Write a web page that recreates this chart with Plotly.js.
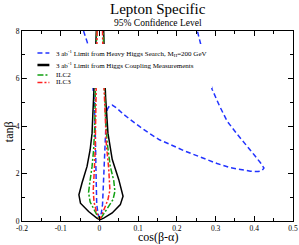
<!DOCTYPE html>
<html>
<head>
<meta charset="utf-8">
<script src="https://cdn.plot.ly/plotly-3.0.1.min.js"></script>
<style>html,body{margin:0;padding:0;background:#fff;}#chart{width:299px;height:245px;}</style>
</head>
<body>
<div id="chart"></div>
<script>
// Heavy Higgs search limit (blue dashed)
var blueX = [-0.041,-0.031,-0.025,-0.020,-0.016,-0.013,-0.011,-0.010,-0.009,-0.0085,-0.007,-0.004,-0.001,0.002,0.005,0.008,0.0095,0.011,0.013,0.015,0.018,0.021,0.026,0.033,0.045,0.063,0.085,0.106,0.130,0.155,0.183,0.217,0.261,0.304,0.339,0.364,0.390,0.410,0.420,0.425,0.416,0.400,0.382,0.356,0.330,0.310,0.291,0.276,0.261,0.253];
var blueY = [8.0,7.5,7.0,6.3,5.5,5.0,4.2,3.2,2.2,1.3,0.7,0.35,0.15,0.15,0.35,0.7,1.3,2.2,3.2,4.0,4.5,4.72,4.85,4.88,4.75,4.48,4.2,3.95,3.68,3.42,3.22,2.97,2.69,2.42,2.24,2.16,2.10,2.08,2.12,2.23,2.45,2.78,3.13,3.65,4.2,4.85,5.55,6.5,7.45,8.0];
// Higgs coupling measurements (black solid)
var blackX = [-0.008,-0.010,-0.013,-0.015,-0.017,-0.019,-0.024,-0.032,-0.045,-0.053,-0.049,-0.028,-0.006,0.002,0.011,0.033,0.054,0.061,0.050,0.033,0.022,0.018,0.016,0.014,0.012,0.011];
var blackY = [8.0,7.0,6.0,5.2,4.5,3.7,3.0,2.3,1.6,1.1,0.75,0.4,0.11,0.06,0.12,0.34,0.69,1.04,1.74,2.6,3.7,4.5,5.2,6.0,7.0,8.0];
// ILC2 (green dash-dot)
var ilc2X = [-0.007,-0.009,-0.010,-0.011,-0.012,-0.015,-0.019,-0.025,-0.028,-0.024,-0.012,-0.002,0.004,0.020,0.035,0.040,0.037,0.028,0.020,0.016,0.014,0.012,0.011,0.010];
var ilc2Y = [8.0,7.0,6.0,5.0,4.0,3.0,2.3,1.6,1.2,0.8,0.4,0.12,0.12,0.5,0.9,1.25,1.7,2.3,3.3,4.3,5.0,6.0,7.0,8.0];
// ILC3 (red dash-dot)
var ilc3X = [-0.006,-0.007,-0.008,-0.009,-0.009,-0.011,-0.013,-0.016,-0.014,-0.008,-0.001,0.003,0.011,0.022,0.027,0.024,0.018,0.015,0.013,0.011,0.009,0.008];
var ilc3Y = [8.0,7.0,6.0,5.0,4.0,3.0,2.2,1.3,0.8,0.4,0.12,0.12,0.45,0.9,1.3,2.2,3.2,4.2,5.0,6.0,7.0,8.0];

var xTickVals = [-0.2,-0.1,0,0.1,0.2,0.3,0.4,0.5];
var xTickText = ['-0.2','-0.1','0','0.1','0.2','0.3','0.4','0.5'];
var yTickVals = [0,2,4,6,8];
var yTickText = ['0','2','4','6','8'];

var legendNames = ['3 ab<sup>-1</sup> Limit from Heavy Higgs Search, M<sub>H</sub>=200 GeV',
                   '3 ab<sup>-1</sup> Limit from Higgs Coupling Measurements',
                   'ILC2','ILC3'];

var FONT = 'Liberation Serif';
var styles = [
  {color:'#2233ff', width:1.5, dash:'5px,3px'},
  {color:'#000000', width:1.5, dash:'solid'},
  {color:'#11a011', width:1.5, dash:'6px,2px,2px,2px'},
  {color:'#ff2020', width:1.5, dash:'5px,2px,2px,2px'}
];

var traces = [
  {x:blueX, y:blueY, name:legendNames[0], mode:'lines', line:styles[0]},
  {x:blackX, y:blackY, name:legendNames[1], mode:'lines', line:styles[1]},
  {x:ilc2X, y:ilc2Y, name:legendNames[2], mode:'lines', line:styles[2]},
  {x:ilc3X, y:ilc3Y, name:legendNames[3], mode:'lines', line:styles[3]}
];

// custom legend (box, sample lines, labels)
var legRowsY = [0.884, 0.821, 0.768, 0.729];
var shapes = [{type:'rect', xref:'paper', yref:'paper', x0:0.018, x1:0.701, y0:0.70, y1:0.932,
  fillcolor:'#ffffff', line:{width:0}, layer:'above'}];
var annotations = [];
for (var i = 0; i < 4; i++) {
  shapes.push({type:'line', xref:'paper', yref:'paper', x0:0.057, x1:0.101, y0:legRowsY[i], y1:legRowsY[i],
    line:{color:styles[i].color, width: i===1 ? 2.5 : 1.5, dash:styles[i].dash}, layer:'above'});
  annotations.push({xref:'paper', yref:'paper', x:0.118, y:legRowsY[i], xanchor:'left', yanchor:'middle',
    text:legendNames[i], showarrow:false, font:{family:FONT, size:7, color:'#000'}});
}
annotations.push({xref:'paper', yref:'paper', x:0.5, y:1.117, xanchor:'center', yanchor:'middle',
  text:'Lepton Specific', showarrow:false, font:{family:FONT, size:15, color:'#000'}});
annotations.push({xref:'paper', yref:'paper', x:0.5, y:1.04, xanchor:'center', yanchor:'middle',
  text:'95% Confidence Level', showarrow:false, font:{family:FONT, size:9.5, color:'#000'}});
annotations.push({xref:'paper', yref:'paper', x:0.5, y:-0.124, xanchor:'center', yanchor:'bottom', borderpad:0,
  text:'cos(β-α)', showarrow:false, font:{family:FONT, size:12, color:'#000'}});
annotations.push({xref:'paper', yref:'paper', x:-0.05, y:0.47, xanchor:'center', yanchor:'middle',
  text:'tanβ', textangle:-90, showarrow:false, font:{family:FONT, size:12, color:'#000'}});

var axisCommon = {
  showgrid:false, zeroline:false, showline:true, linecolor:'#000', linewidth:1, mirror:'ticks',
  ticks:'inside', ticklen:5, tickwidth:1, tickcolor:'#000',
  tickfont:{family:FONT, size:7.5, color:'#000'}, fixedrange:true
};

var layout = {
  width:299, height:245,
  margin:{l:22, r:6, t:31, b:24, pad:0},
  paper_bgcolor:'#fff', plot_bgcolor:'#fff',
  showlegend:false,
  font:{family:FONT},
  xaxis:Object.assign({}, axisCommon, {range:[-0.2,0.5], tickmode:'array', tickvals:xTickVals, ticktext:xTickText,
    minor:{ticks:'inside', ticklen:3, tickcolor:'#000', tickmode:'linear', tick0:0, dtick:0.05}}),
  yaxis:Object.assign({}, axisCommon, {range:[0,8], tickmode:'array', tickvals:yTickVals, ticktext:yTickText,
    minor:{ticks:'inside', ticklen:3, tickcolor:'#000', tickmode:'linear', tick0:0, dtick:1}}),
  shapes:shapes,
  annotations:annotations
};

Plotly.newPlot('chart', traces, layout, {staticPlot:true, displayModeBar:false});
</script>
</body>
</html>
